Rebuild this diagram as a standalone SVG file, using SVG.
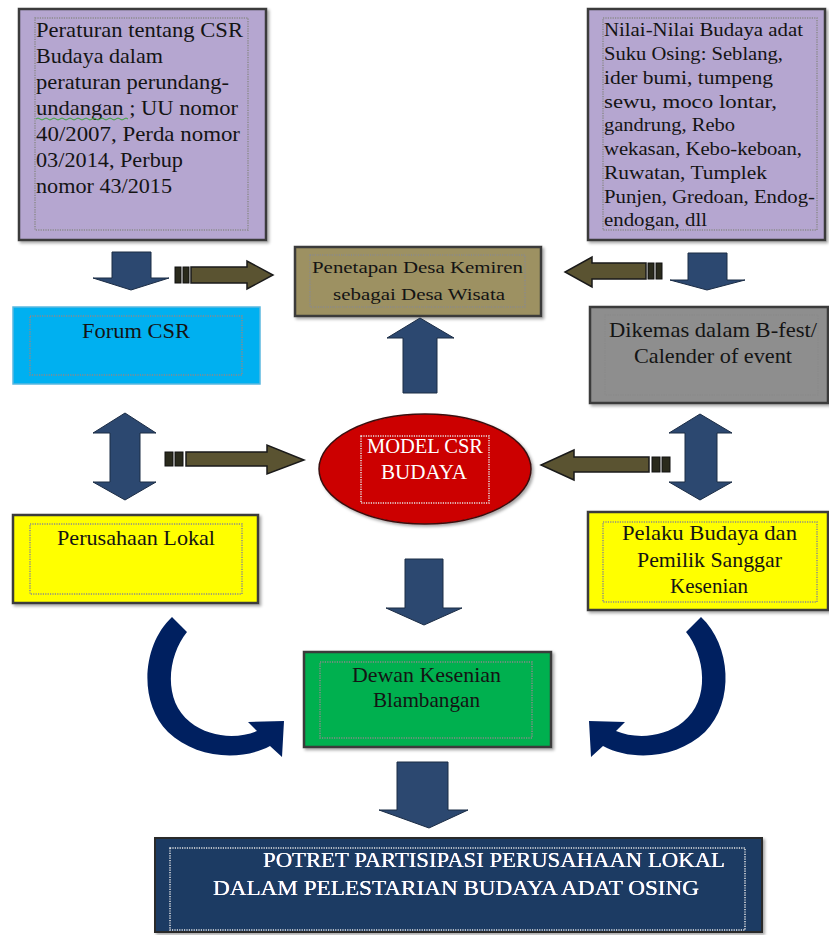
<svg xmlns="http://www.w3.org/2000/svg" width="829" height="935" viewBox="0 0 829 935">
<defs>
<filter id="sh" x="-10%" y="-10%" width="125%" height="130%">
<feDropShadow dx="2" dy="2" stdDeviation="1.5" flood-color="#000" flood-opacity="0.35"/>
</filter>
<filter id="glow" x="-5%" y="-20%" width="110%" height="140%">
<feGaussianBlur stdDeviation="0.6"/>
</filter>
</defs>
<style>
text{font-family:"Liberation Serif","Times New Roman",serif;fill:#141414}
.box{stroke:#3a3a3a;stroke-width:2.5}
.dot{fill:none;stroke:#8a8a8a;stroke-width:1.5;stroke-dasharray:1.2 1.2}
.dotw{fill:none;stroke:#e6e6e6;stroke-width:1.5;stroke-dasharray:1.2 1.2}
.blue{fill:#2c4870;stroke:#1b2c45;stroke-width:1}
.olive{fill:#5a5331;stroke:#1a1a1a;stroke-width:1.5}
.blk{fill:#2a2a1c;stroke:#111;stroke-width:1}
.navy{fill:#002060}
.t22{font-size:22px}
.t18{font-size:18px}
.w{fill:#ffffff}
</style>

<g id="node-peraturan">
<rect class="box" x="19" y="9" width="247" height="231" fill="#b5a6d0" filter="url(#sh)"/>
<rect class="dot" x="35" y="18" width="213" height="212"/>
<g class="t22">
<text x="36" y="37" textLength="207" lengthAdjust="spacingAndGlyphs">Peraturan tentang CSR</text>
<text x="36" y="63" textLength="127" lengthAdjust="spacingAndGlyphs">Budaya dalam</text>
<text x="36" y="89" textLength="193" lengthAdjust="spacingAndGlyphs">peraturan perundang-</text>
<text x="36" y="115" textLength="202" lengthAdjust="spacingAndGlyphs">undangan ; UU nomor</text>
<text x="36" y="141" textLength="204" lengthAdjust="spacingAndGlyphs">40/2007, Perda nomor</text>
<text x="36" y="167" textLength="147" lengthAdjust="spacingAndGlyphs">03/2014, Perbup</text>
<text x="36" y="193" textLength="136" lengthAdjust="spacingAndGlyphs">nomor 43/2015</text>
</g>
<path d="M36,119 q2,-2 4,0 t4,0 t4,0 t4,0 t4,0 t4,0 t4,0 t4,0 t4,0 t4,0 t4,0 t4,0 t4,0 t4,0 t4,0 t4,0 t4,0 t4,0 t4,0 t4,0 t4,0 t4,0 t4,0" fill="none" stroke="#3aa83a" stroke-width="1"/>
</g>

<g id="node-nilai">
<rect class="box" x="588" y="9" width="237" height="231" fill="#b5a6d0" filter="url(#sh)"/>
<rect class="dot" x="603" y="18" width="214" height="212"/>
<g class="t18">
<text x="604" y="36" textLength="199" lengthAdjust="spacingAndGlyphs">Nilai-Nilai  Budaya adat</text>
<text x="604" y="60" textLength="179" lengthAdjust="spacingAndGlyphs">Suku Osing: Seblang,</text>
<text x="604" y="84" textLength="169" lengthAdjust="spacingAndGlyphs">ider bumi, tumpeng</text>
<text x="604" y="108" textLength="173" lengthAdjust="spacingAndGlyphs">sewu, moco lontar,</text>
<text x="604" y="131" textLength="131" lengthAdjust="spacingAndGlyphs">gandrung, Rebo</text>
<text x="604" y="155" textLength="198" lengthAdjust="spacingAndGlyphs">wekasan, Kebo-keboan,</text>
<text x="604" y="179" textLength="163" lengthAdjust="spacingAndGlyphs">Ruwatan, Tumplek</text>
<text x="604" y="203" textLength="211" lengthAdjust="spacingAndGlyphs">Punjen, Gredoan, Endog-</text>
<text x="604" y="226" textLength="103" lengthAdjust="spacingAndGlyphs">endogan, dll</text>
</g>
</g>

<g id="node-penetapan">
<rect class="box" x="295" y="247" width="246" height="69" fill="#9d9162" filter="url(#sh)"/>
<rect class="dot" x="310" y="255" width="215" height="52"/>
<text x="312" y="273" font-size="17" textLength="211" lengthAdjust="spacingAndGlyphs" fill="#2a2410">Penetapan Desa Kemiren</text>
<text x="333" y="300" font-size="17" textLength="172" lengthAdjust="spacingAndGlyphs" fill="#2a2410">sebagai Desa Wisata</text>
</g>

<g id="node-forum">
<rect x="13" y="307" width="247" height="77" fill="#00b0f0" stroke="#5ab8e0" stroke-width="1.5"/>
<rect class="dot" x="30" y="316" width="212" height="59"/>
<text class="t22" x="82" y="338" textLength="108" lengthAdjust="spacingAndGlyphs">Forum CSR</text>
</g>

<g id="node-dikemas">
<rect class="box" x="590" y="307" width="238" height="96" fill="#8e8e8e" filter="url(#sh)"/>
<rect class="dot" x="605" y="315" width="213" height="80"/>
<text class="t22" x="609" y="337" textLength="208" lengthAdjust="spacingAndGlyphs" fill="#1c2340">Dikemas  dalam B-fest/</text>
<text class="t22" x="634" y="363" textLength="158" lengthAdjust="spacingAndGlyphs" fill="#1c2340">Calender  of event</text>
</g>

<g id="node-model">
<ellipse cx="425" cy="469" rx="106" ry="55" fill="#cc0000" stroke="#3a1010" stroke-width="1.5" filter="url(#sh)"/>
<rect class="dotw" x="361" y="436" width="128" height="67"/>
<text class="w" x="367" y="453" font-size="20.5" textLength="116" lengthAdjust="spacingAndGlyphs">MODEL CSR</text>
<text class="w" x="381" y="479" font-size="20.5" textLength="86" lengthAdjust="spacingAndGlyphs">BUDAYA</text>
</g>

<g id="node-perusahaan">
<rect class="box" x="13" y="515" width="245" height="88" fill="#ffff00" filter="url(#sh)"/>
<rect class="dot" x="30" y="524" width="212" height="70"/>
<text class="t22" x="57" y="545" textLength="158" lengthAdjust="spacingAndGlyphs" fill="#2a2a00">Perusahaan  Lokal</text>
</g>

<g id="node-pelaku">
<rect class="box" x="588" y="512" width="240" height="98" fill="#ffff00" filter="url(#sh)"/>
<rect class="dot" x="603" y="522" width="214" height="80"/>
<text class="t22" x="622" y="540" textLength="175" lengthAdjust="spacingAndGlyphs" fill="#2a2a00">Pelaku Budaya dan</text>
<text class="t22" x="637" y="567" textLength="145" lengthAdjust="spacingAndGlyphs" fill="#2a2a00">Pemilik  Sanggar</text>
<text class="t22" x="670" y="593" textLength="78" lengthAdjust="spacingAndGlyphs" fill="#2a2a00">Kesenian</text>
</g>

<g id="node-dewan">
<rect class="box" x="304" y="652" width="247" height="95" fill="#00b050" filter="url(#sh)"/>
<rect class="dot" x="320" y="662" width="212" height="76"/>
<text class="t22" x="352" y="682" textLength="149" lengthAdjust="spacingAndGlyphs" fill="#0f2a14">Dewan Kesenian</text>
<text class="t22" x="373" y="707" textLength="107" lengthAdjust="spacingAndGlyphs" fill="#0f2a14">Blambangan</text>
</g>

<g id="node-potret">
<rect x="155" y="838" width="607" height="94" fill="#1f3a64" stroke="#2b2b2b" stroke-width="2" filter="url(#sh)"/>
<rect class="dotw" x="170" y="848" width="575" height="82"/>
<g filter="url(#glow)">
<text class="w t22" x="263" y="867" textLength="462" lengthAdjust="spacingAndGlyphs">POTRET  PARTISIPASI PERUSAHAAN LOKAL</text>
<text class="w t22" x="213" y="895" textLength="486" lengthAdjust="spacingAndGlyphs">DALAM PELESTARIAN  BUDAYA ADAT OSING</text>
</g>
<text class="w t22" x="263" y="867" textLength="462" lengthAdjust="spacingAndGlyphs">POTRET  PARTISIPASI PERUSAHAAN LOKAL</text>
<text class="w t22" x="213" y="895" textLength="486" lengthAdjust="spacingAndGlyphs">DALAM PELESTARIAN  BUDAYA ADAT OSING</text>
</g>

<g id="connectors">
<!-- blue block arrows -->
<polygon class="blue" points="112,252 151,252 151,278 169,278 131,290 93,278 112,278"/>
<polygon class="blue" points="688,253 727,253 727,280 745,280 707,290 670,280 688,280"/>
<polygon class="blue" points="420,318 454,338 437,338 437,393 403,393 403,338 387,338"/>
<polygon class="blue" points="125,413 156,433 140,433 140,482 156,482 125,500 93,482 110,482 110,433 93,433"/>
<polygon class="blue" points="700,414 732,433 717,433 717,482 732,482 700,500 669,482 685,482 685,433 669,433"/>
<polygon class="blue" points="405,559 443,559 443,608 462,608 424,625 386,608 405,608"/>
<polygon class="blue" points="397,762 448,762 448,810 468,810 429,828 379,810 397,810"/>

<!-- olive striped arrows -->
<rect class="blk" x="175" y="267" width="6" height="16"/>
<rect class="blk" x="183" y="267" width="6" height="16"/>
<polygon class="olive" points="191,267 247,267 247,261 273,275 247,289 247,283 191,283"/>

<rect class="blk" x="656" y="263" width="6" height="16"/>
<rect class="blk" x="648" y="263" width="6" height="16"/>
<polygon class="olive" points="646,263 592,263 592,257 565,272 592,287 592,279 646,279"/>

<rect class="blk" x="165" y="452" width="8" height="14"/>
<rect class="blk" x="175" y="452" width="8" height="14"/>
<polygon class="olive" points="186,452 267,452 267,445 304,460 267,474 267,466 186,466"/>

<rect class="blk" x="662" y="457" width="8" height="15"/>
<rect class="blk" x="652" y="457" width="8" height="15"/>
<polygon class="olive" points="649,457 574,457 574,450 541,465 574,480 574,472 649,472"/>

<!-- curved arrows -->
<path id="curve-left" class="navy" d="M172,617 L187,632 C168,655 162,700 190,722 C210,738 238,739 257,731 L248,722 L284,721 L282,757 L270,746 C240,762 195,758 168,732 C138,702 142,645 172,617 Z"/>
<path id="curve-right" class="navy" transform="translate(873,0) scale(-1,1)" d="M172,617 L187,632 C168,655 162,700 190,722 C210,738 238,739 257,731 L248,722 L284,721 L282,757 L270,746 C240,762 195,758 168,732 C138,702 142,645 172,617 Z"/>
</g>
</svg>
